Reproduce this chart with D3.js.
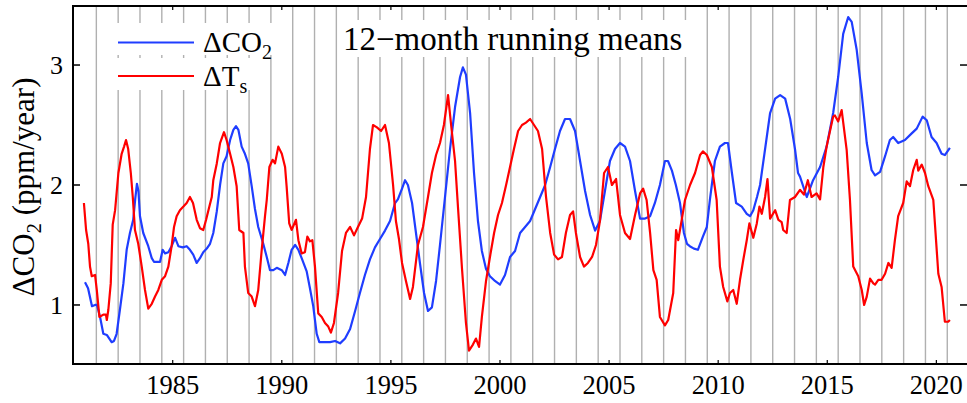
<!DOCTYPE html>
<html>
<head>
<meta charset="utf-8">
<script src="https://cdn.jsdelivr.net/npm/d3@7"></script>
<style>
  html, body { margin: 0; padding: 0; background: #fff; }
  svg { display: block; }
  text { font-family: "Liberation Serif", "DejaVu Serif", serif; fill: #000; }
</style>
</head>
<body>
<svg id="chart" width="967" height="403"></svg>
<script>
// ---------------- data ----------------
const co2Year = [1980.98,1981.12,1981.30,1981.44,1981.53,1981.67,1981.82,1981.98,1982.20,1982.31,1982.43,1982.58,1982.74,1982.89,1983.04,1983.19,1983.28,1983.36,1983.43,1983.50,1983.65,1983.88,1984.04,1984.14,1984.42,1984.54,1984.65,1984.80,1984.95,1985.11,1985.26,1985.46,1985.64,1985.79,1985.94,1986.10,1986.25,1986.40,1986.56,1986.71,1986.86,1987.02,1987.17,1987.32,1987.47,1987.63,1987.78,1987.90,1988.01,1988.16,1988.31,1988.46,1988.62,1988.77,1988.92,1989.15,1989.31,1989.46,1989.61,1989.77,1990.00,1990.15,1990.30,1990.45,1990.61,1990.76,1990.91,1991.14,1991.29,1991.44,1991.60,1991.72,1991.90,1992.21,1992.44,1992.67,1992.90,1993.13,1993.36,1993.58,1993.81,1994.04,1994.27,1994.50,1994.73,1994.96,1995.19,1995.32,1995.51,1995.65,1995.78,1995.97,1996.15,1996.33,1996.52,1996.70,1996.88,1997.07,1997.25,1997.48,1997.71,1997.94,1998.17,1998.30,1998.44,1998.63,1998.81,1998.99,1999.17,1999.36,1999.54,1999.77,2000.00,2000.23,2000.46,2000.69,2000.92,2001.15,2001.38,2001.61,2001.84,2002.07,2002.30,2002.52,2002.75,2002.98,2003.21,2003.44,2003.67,2003.90,2004.13,2004.36,2004.58,2004.81,2005.04,2005.27,2005.50,2005.73,2005.96,2006.19,2006.42,2006.65,2006.88,2007.10,2007.33,2007.56,2007.70,2007.88,2008.06,2008.25,2008.43,2008.57,2008.70,2008.89,2009.07,2009.30,2009.48,2009.62,2009.85,2010.08,2010.31,2010.45,2010.63,2010.82,2011.08,2011.31,2011.46,2011.61,2011.78,2011.92,2012.15,2012.38,2012.61,2012.84,2013.07,2013.30,2013.52,2013.66,2013.75,2014.06,2014.35,2014.67,2014.97,2015.27,2015.50,2015.73,2015.96,2016.12,2016.35,2016.58,2016.81,2017.03,2017.19,2017.42,2017.65,2017.87,2018.02,2018.25,2018.56,2018.87,2019.10,2019.37,2019.56,2019.78,2020.01,2020.24,2020.39,2020.62];
const co2Val = [1.19,1.14,0.99,1.00,1.00,0.90,0.76,0.75,0.69,0.70,0.76,0.96,1.18,1.46,1.60,1.71,1.88,2.01,1.95,1.74,1.60,1.49,1.39,1.36,1.36,1.46,1.43,1.44,1.49,1.56,1.49,1.48,1.49,1.46,1.42,1.35,1.39,1.44,1.47,1.51,1.60,1.78,2.00,2.18,2.24,2.375,2.46,2.49,2.46,2.32,2.26,2.18,1.99,1.80,1.65,1.51,1.40,1.29,1.29,1.31,1.29,1.25,1.35,1.46,1.50,1.46,1.39,1.28,1.14,0.99,0.76,0.69,0.69,0.69,0.70,0.68,0.72,0.80,0.95,1.10,1.25,1.38,1.48,1.55,1.62,1.70,1.85,1.88,1.97,2.04,2.00,1.85,1.60,1.35,1.10,0.95,0.98,1.20,1.50,1.90,2.30,2.65,2.90,2.98,2.92,2.60,2.10,1.70,1.45,1.30,1.24,1.20,1.17,1.25,1.40,1.45,1.60,1.65,1.70,1.80,1.90,2.00,2.15,2.30,2.45,2.55,2.55,2.45,2.20,1.95,1.75,1.62,1.70,1.95,2.20,2.30,2.35,2.32,2.20,1.95,1.72,1.72,1.74,1.85,2.00,2.20,2.20,2.12,2.00,1.85,1.60,1.51,1.49,1.47,1.46,1.57,1.65,1.875,2.20,2.32,2.35,2.35,2.10,1.85,1.82,1.76,1.74,1.79,1.90,2.00,2.30,2.60,2.72,2.75,2.72,2.55,2.30,2.10,2.07,1.90,2.04,2.15,2.32,2.60,2.90,3.26,3.40,3.36,3.125,2.76,2.35,2.125,2.08,2.11,2.24,2.375,2.40,2.35,2.375,2.43,2.47,2.57,2.54,2.40,2.35,2.26,2.25,2.31];

const tsYear = [1980.93,1981.03,1981.13,1981.21,1981.29,1981.44,1981.52,1981.64,1981.82,1981.94,1981.98,1982.05,1982.16,1982.25,1982.36,1982.51,1982.66,1982.77,1982.86,1982.96,1983.08,1983.17,1983.27,1983.42,1983.58,1983.73,1983.88,1984.04,1984.19,1984.34,1984.50,1984.65,1984.80,1984.95,1985.06,1985.18,1985.33,1985.49,1985.64,1985.79,1985.93,1986.10,1986.25,1986.40,1986.53,1986.68,1986.79,1986.86,1987.02,1987.17,1987.35,1987.47,1987.63,1987.78,1987.93,1988.05,1988.24,1988.31,1988.46,1988.62,1988.77,1988.92,1989.08,1989.23,1989.31,1989.43,1989.58,1989.69,1989.84,1990.00,1990.15,1990.22,1990.34,1990.45,1990.65,1990.76,1990.91,1991.06,1991.17,1991.29,1991.40,1991.52,1991.67,1991.83,1991.98,1992.13,1992.25,1992.39,1992.58,1992.76,1992.94,1993.13,1993.31,1993.49,1993.68,1993.86,1994.04,1994.18,1994.36,1994.55,1994.73,1994.91,1995.10,1995.23,1995.37,1995.51,1995.69,1995.88,1996.01,1996.24,1996.47,1996.70,1996.88,1997.07,1997.25,1997.43,1997.62,1997.76,1997.94,1998.08,1998.26,1998.44,1998.58,1998.76,1998.90,1999.04,1999.17,1999.36,1999.54,1999.73,1999.91,2000.09,2000.28,2000.46,2000.64,2000.83,2001.01,2001.19,2001.38,2001.56,2001.74,2001.93,2002.11,2002.30,2002.48,2002.66,2002.84,2003.02,2003.21,2003.35,2003.48,2003.67,2003.85,2004.03,2004.22,2004.40,2004.58,2004.77,2004.95,2005.13,2005.32,2005.50,2005.73,2005.96,2006.19,2006.42,2006.56,2006.72,2006.88,2007.03,2007.18,2007.33,2007.56,2007.71,2007.94,2008.07,2008.17,2008.33,2008.48,2008.71,2008.94,2009.17,2009.30,2009.48,2009.71,2009.93,2010.08,2010.23,2010.42,2010.54,2010.69,2010.85,2011.00,2011.15,2011.31,2011.43,2011.61,2011.77,2011.89,2012.00,2012.15,2012.26,2012.38,2012.61,2012.76,2012.91,2012.98,2013.14,2013.29,2013.52,2013.75,2013.93,2014.11,2014.28,2014.51,2014.67,2014.82,2014.97,2015.27,2015.35,2015.50,2015.66,2015.89,2016.04,2016.19,2016.42,2016.58,2016.69,2016.81,2016.96,2017.11,2017.19,2017.34,2017.49,2017.65,2017.80,2017.95,2018.10,2018.25,2018.48,2018.64,2018.79,2018.94,2019.10,2019.17,2019.33,2019.48,2019.63,2019.86,2020.09,2020.24,2020.39,2020.54,2020.62];
const tsVal = [1.85,1.625,1.51,1.32,1.24,1.25,1.125,0.90,0.92,0.92,0.875,0.96,1.18,1.67,1.79,2.10,2.26,2.32,2.375,2.30,2.10,1.90,1.625,1.51,1.32,1.125,0.97,1.01,1.07,1.125,1.21,1.24,1.32,1.49,1.65,1.74,1.79,1.82,1.85,1.90,1.85,1.71,1.64,1.625,1.71,1.82,1.90,2.04,2.18,2.35,2.44,2.375,2.26,2.15,1.99,1.625,1.60,1.32,1.10,1.07,0.99,1.125,1.46,1.74,1.875,2.15,2.21,2.18,2.32,2.26,2.15,1.99,1.68,1.625,1.71,1.54,1.43,1.44,1.57,1.53,1.54,1.32,0.93,0.90,0.85,0.82,0.77,0.85,1.10,1.45,1.60,1.65,1.58,1.65,1.72,1.90,2.30,2.50,2.48,2.45,2.50,2.35,2.00,1.70,1.55,1.35,1.20,1.05,1.15,1.50,1.65,1.90,2.10,2.25,2.35,2.50,2.75,2.50,2.20,1.80,1.30,0.85,0.62,0.67,0.72,0.65,0.90,1.20,1.40,1.60,1.75,1.85,2.00,2.15,2.30,2.45,2.50,2.52,2.55,2.50,2.45,2.30,1.90,1.60,1.42,1.38,1.40,1.60,1.75,1.78,1.60,1.40,1.32,1.35,1.40,1.50,1.70,2.10,2.15,2.00,2.05,1.75,1.60,1.55,1.75,1.93,1.97,1.875,1.60,1.29,1.21,0.90,0.83,0.875,1.10,1.625,1.54,1.71,1.875,2.00,2.10,2.25,2.28,2.25,2.15,1.875,1.32,1.15,1.03,1.10,1.125,1.01,1.21,1.375,1.54,1.68,1.56,1.68,1.82,1.76,1.90,2.05,1.72,1.79,1.71,1.69,1.625,1.60,1.875,1.90,1.96,1.92,2.04,1.90,1.93,1.88,2.15,2.32,2.57,2.58,2.53,2.625,2.29,1.875,1.32,1.24,1.125,1.00,1.07,1.22,1.18,1.17,1.21,1.21,1.26,1.35,1.31,1.54,1.74,1.85,2.03,1.99,2.125,2.21,2.12,2.17,2.10,1.99,1.875,1.26,1.15,0.86,0.86,0.875];

const xTickYears = [1985, 1990, 1995, 2000, 2005, 2010, 2015, 2020];
const yTickValues = [1, 2, 3];
const gridYears = d3.range(1981.5, 2021, 1);
const titleText = "12−month running means";

// ---------------- layout ----------------
const svg = d3.select("#chart");
const L = 73, R = 968, T = 6, B = 364;
const x = d3.scaleLinear().domain([1980.43, 2021.45]).range([L, R]);
const y = d3.scaleLinear().domain([0.508, 3.492]).range([B, T]);

const blue = "#1f3dff";
const red = "#ff0000";

svg.append("defs").append("clipPath").attr("id", "clip")
  .append("rect").attr("x", L).attr("y", T).attr("width", R - L).attr("height", B - T);

// grid lines
svg.append("g").selectAll("line").data(gridYears).join("line")
  .attr("x1", d => x(d)).attr("x2", d => x(d))
  .attr("y1", T).attr("y2", B)
  .attr("stroke", "#b0b0b0").attr("stroke-width", 1.4);

// title with white backing
const titleG = svg.append("g");
titleG.append("rect").attr("x", 340).attr("y", 20).attr("width", 348).attr("height", 37).attr("fill", "#fff");
titleG.append("text").attr("x", 343).attr("y", 50).attr("font-size", 33).text(titleText);

// legend with white backing per row
const legendRows = [
  { name: "ΔCO", sub: "2", color: blue, ly: 42.5, ty: 52, box: [110, 23, 172, 32] },
  { name: "ΔT", sub: "s", color: red, ly: 76, ty: 86, box: [110, 58, 143, 32] }
];
const lg = svg.append("g");
legendRows.forEach(r => {
  lg.append("rect").attr("x", r.box[0]).attr("y", r.box[1]).attr("width", r.box[2]).attr("height", r.box[3]).attr("fill", "#fff");
  lg.append("line").attr("x1", 118).attr("x2", 194).attr("y1", r.ly).attr("y2", r.ly)
    .attr("stroke", r.color).attr("stroke-width", 2.2);
  const t = lg.append("text").attr("x", 203).attr("y", r.ty).attr("font-size", 29);
  t.append("tspan").text(r.name);
  t.append("tspan").attr("font-size", 20).attr("dy", 7).text(r.sub);
});

// data lines
const line = d3.line().x(d => x(d[0])).y(d => y(d[1]));
const co2Data = co2Year.map((d, i) => [d, co2Val[i]]);
const tsData = tsYear.map((d, i) => [d, tsVal[i]]);
const plot = svg.append("g").attr("clip-path", "url(#clip)");
plot.append("path").datum(co2Data).attr("d", line)
  .attr("fill", "none").attr("stroke", blue).attr("stroke-width", 2.2).attr("stroke-linejoin", "round");
plot.append("path").datum(tsData).attr("d", line)
  .attr("fill", "none").attr("stroke", red).attr("stroke-width", 2.2).attr("stroke-linejoin", "round");

// frame
svg.append("path")
  .attr("d", `M${R},${T}H${L}V${B}H${R}`)
  .attr("fill", "none").attr("stroke", "#000").attr("stroke-width", 2);

// y ticks (left inward, right inward)
const yt = svg.append("g");
yt.selectAll("line.l").data(yTickValues).join("line").attr("class", "l")
  .attr("x1", L).attr("x2", L + 7).attr("y1", d => y(d)).attr("y2", d => y(d))
  .attr("stroke", "#000").attr("stroke-width", 1.5);
yt.selectAll("line.r").data(yTickValues).join("line").attr("class", "r")
  .attr("x1", R - 8).attr("x2", R).attr("y1", d => y(d)).attr("y2", d => y(d))
  .attr("stroke", "#000").attr("stroke-width", 1.5);
yt.selectAll("text").data(yTickValues).join("text")
  .attr("x", 63).attr("y", d => y(d) + 9).attr("text-anchor", "end").attr("font-size", 26)
  .text(d => d);

// x ticks (bottom & top inward)
const xt = svg.append("g");
xt.selectAll("line.b").data(xTickYears).join("line").attr("class", "b")
  .attr("x1", d => x(d)).attr("x2", d => x(d)).attr("y1", B).attr("y2", B - 4)
  .attr("stroke", "#000").attr("stroke-width", 1.2);
xt.selectAll("line.t").data(xTickYears).join("line").attr("class", "t")
  .attr("x1", d => x(d)).attr("x2", d => x(d)).attr("y1", T).attr("y2", T + 4)
  .attr("stroke", "#000").attr("stroke-width", 1.2);
xt.selectAll("text").data(xTickYears).join("text")
  .attr("x", d => x(d)).attr("y", 393.5).attr("text-anchor", "middle").attr("font-size", 26.5)
  .text(d => d);

// y label
const yl = svg.append("text")
  .attr("transform", "translate(34,187) rotate(-90)")
  .attr("text-anchor", "middle").attr("font-size", 31);
yl.append("tspan").text("ΔCO");
yl.append("tspan").attr("font-size", 21).attr("dy", 7).text("2");
yl.append("tspan").attr("dy", -7).text(" (ppm/year)");
</script>
</body>
</html>
